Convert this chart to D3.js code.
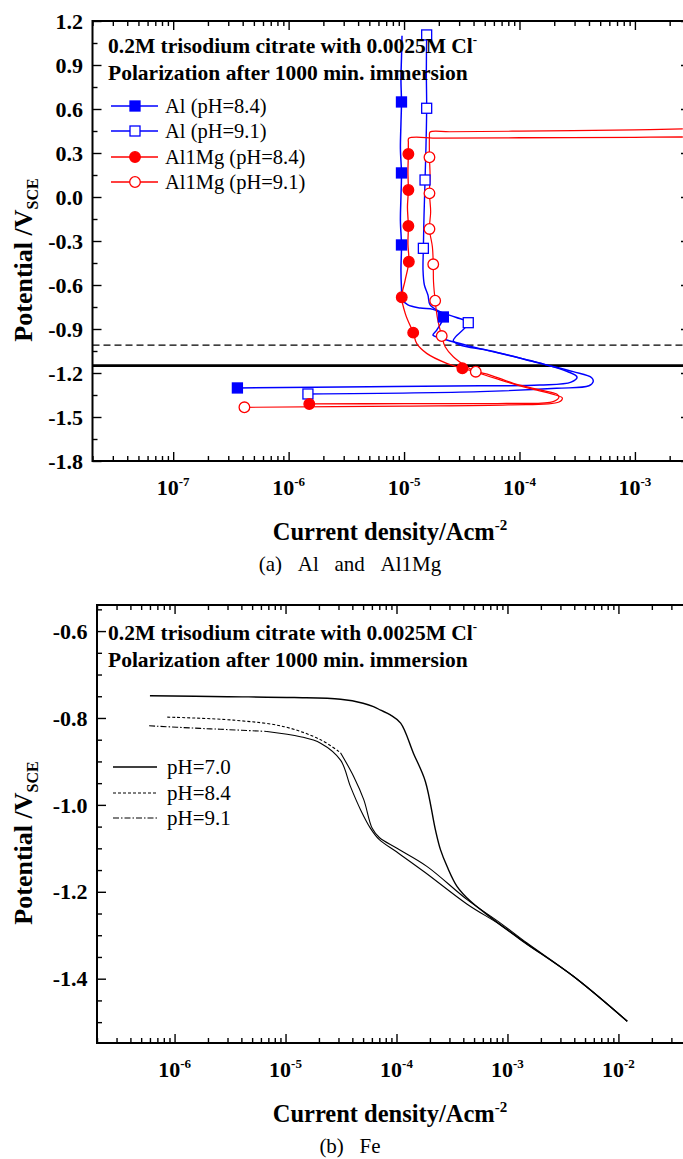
<!DOCTYPE html>
<html><head><meta charset="utf-8">
<script src="https://cdn.jsdelivr.net/npm/d3@7"></script>
<style>
body{margin:0;background:#fff}
svg{display:block}
text{font-family:"Liberation Serif","Times New Roman",Times,serif;fill:#000}
</style>
</head><body>
<svg id="c" width="683" height="1159"></svg>
<script>
// ---------- Panel (a): Al and Al1Mg, [current density A/cm2, potential V] ----------
const aAl84 = [[9.6e-6,1.10],[9.5e-6,0.95],[9.4e-6,0.80],[9.5e-6,0.648],[9.4e-6,0.50],[9.3e-6,0.33],[9.5e-6,0.164],[9.4e-6,0.0],[9.3e-6,-0.16],[9.5e-6,-0.327],[9.4e-6,-0.50],[9.5e-6,-0.62],[9.7e-6,-0.70],[1.08e-5,-0.736],[1.38e-5,-0.757],[1.78e-5,-0.766],[2.0e-5,-0.785],[2.19e-5,-0.818],[1.92e-5,-0.907],[1.78e-5,-0.941],[2.05e-5,-0.961],[3.96e-5,-1.022],[1.5e-4,-1.132],[2.6e-4,-1.19],[3.15e-4,-1.227],[2.8e-4,-1.262],[1.5e-4,-1.282],[4.6e-5,-1.287],[5e-6,-1.294],[3.6e-7,-1.302]];
const aAl84Markers = [[9.5e-6,0.648],[9.5e-6,0.164],[9.5e-6,-0.327],[2.19e-5,-0.818],[3.6e-7,-1.302]];

const aAl91 = [[1.57e-5,1.105],[1.56e-5,0.85],[1.57e-5,0.605],[1.55e-5,0.36],[1.52e-5,0.116],[1.49e-5,-0.12],[1.47e-5,-0.35],[1.46e-5,-0.50],[1.5e-5,-0.60],[1.61e-5,-0.668],[1.68e-5,-0.736],[2.05e-5,-0.782],[2.8e-5,-0.82],[3.6e-5,-0.857],[2.77e-5,-0.957],[2.67e-5,-0.98],[3.06e-5,-1.009],[5.56e-5,-1.048],[1.5e-4,-1.134],[2.92e-4,-1.191],[4.22e-4,-1.232],[4.35e-4,-1.259],[4.0e-4,-1.287],[2.1e-4,-1.304],[4.55e-5,-1.327],[1.47e-6,-1.343]];
const aAl91Markers = [[1.57e-5,1.105],[1.57e-5,0.605],[1.52e-5,0.116],[1.47e-5,-0.35],[3.6e-5,-0.857],[1.47e-6,-1.343]];

const aMg84 = [[2.6e-3,0.409],[1e-3,0.407],[1e-4,0.404],[2e-5,0.401],[1.1e-5,0.400],[1.09e-5,0.37],[1.09e-5,0.293],[1.08e-5,0.17],[1.09e-5,0.048],[1.07e-5,-0.07],[1.09e-5,-0.198],[1.08e-5,-0.32],[1.1e-5,-0.441],[1.02e-5,-0.57],[9.55e-6,-0.684],[1.03e-5,-0.80],[1.2e-5,-0.925],[1.29e-5,-1.0],[1.57e-5,-1.066],[2.34e-5,-1.134],[3.2e-5,-1.168],[5.56e-5,-1.214],[8.83e-5,-1.27],[1.5e-4,-1.315],[2.1e-4,-1.343],[2.2e-4,-1.362],[1.96e-4,-1.395],[7.7e-5,-1.407],[1e-5,-1.409],[1.51e-6,-1.411]];
const aMg84Markers = [[1.09e-5,0.293],[1.09e-5,0.048],[1.09e-5,-0.198],[1.1e-5,-0.441],[9.55e-6,-0.684],[1.2e-5,-0.925],[3.2e-5,-1.168],[1.51e-6,-1.411]];

const aMg91 = [[2.6e-3,0.464],[1e-3,0.458],[1e-4,0.449],[2.5e-5,0.445],[1.68e-5,0.443],[1.66e-5,0.41],[1.66e-5,0.271],[1.68e-5,0.15],[1.66e-5,0.025],[1.7e-5,-0.10],[1.66e-5,-0.218],[1.76e-5,-0.34],[1.79e-5,-0.459],[1.8e-5,-0.58],[1.86e-5,-0.707],[1.95e-5,-0.83],[2.12e-5,-0.948],[2.27e-5,-1.021],[2.67e-5,-1.089],[3.49e-5,-1.157],[4.18e-5,-1.191],[7e-5,-1.25],[1.3e-4,-1.31],[2.05e-4,-1.35],[2.35e-4,-1.37],[2.2e-4,-1.398],[8e-5,-1.418],[1e-5,-1.426],[4.14e-7,-1.434]];
const aMg91Markers = [[1.66e-5,0.271],[1.66e-5,0.025],[1.66e-5,-0.218],[1.79e-5,-0.459],[1.86e-5,-0.707],[2.12e-5,-0.948],[4.18e-5,-1.191],[4.14e-7,-1.434]];

const aRefSolid = -1.15;
const aRefDashed = -1.01;
const aLegend = ["Al (pH=8.4)","Al (pH=9.1)","Al1Mg (pH=8.4)","Al1Mg (pH=9.1)"];
const aXDomain = [2e-8, 3e-3];
const aYDomain = [-1.8, 1.2];
const aXTicks = [1e-7,1e-6,1e-5,1e-4,1e-3];
const aXTickExp = ["-7","-6","-5","-4","-3"];
const aYTicks = [-1.8,-1.5,-1.2,-0.9,-0.6,-0.3,0.0,0.3,0.6,0.9,1.2];
const aYMinor = [-1.65,-1.35,-1.05,-0.75,-0.45,-0.15,0.15,0.45,0.75,1.05];

// ---------- Panel (b): Fe ----------
const fe70 = [[6.0e-7,-0.749],[3e-6,-0.751],[1.2e-5,-0.753],[3.13e-5,-0.757],[5e-5,-0.766],[6.2e-5,-0.774],[7.2e-5,-0.782],[8.8e-5,-0.793],[1.09e-4,-0.812],[1.42e-4,-0.881],[1.82e-4,-0.946],[2.24e-4,-1.057],[2.49e-4,-1.103],[2.86e-4,-1.142],[3.52e-4,-1.188],[4.65e-4,-1.222],[7.5e-4,-1.264],[1.31e-3,-1.31],[3.95e-3,-1.395],[1.2e-2,-1.498]];
const fe84 = [[8.6e-7,-0.798],[3.4e-6,-0.805],[9.7e-6,-0.82],[2.07e-5,-0.85],[3.13e-5,-0.88],[4.12e-5,-0.935],[5.07e-5,-0.988],[6.04e-5,-1.054],[7e-5,-1.075],[1.01e-4,-1.1],[1.89e-4,-1.142],[4.33e-4,-1.218],[8.65e-4,-1.272],[1.5e-3,-1.318],[3.95e-3,-1.395],[1.2e-2,-1.498]];
const fe91 = [[5.9e-7,-0.818],[1.71e-6,-0.824],[2.6e-6,-0.826],[6.8e-6,-0.831],[1.36e-5,-0.843],[2.07e-5,-0.858],[3.13e-5,-0.897],[3.85e-5,-0.958],[4.74e-5,-1.011],[5.83e-5,-1.054],[7e-5,-1.08],[1.0e-4,-1.108],[1.8e-4,-1.155],[4.3e-4,-1.228],[8.6e-4,-1.276],[1.5e-3,-1.32],[3.95e-3,-1.395],[1.2e-2,-1.498]];
const feLegend = ["pH=7.0","pH=8.4","pH=9.1"];
const bXDomain = [2e-7, 5e-2];
const bYDomain = [-1.548, -0.54];
const bXTicks = [1e-6,1e-5,1e-4,1e-3,1e-2];
const bXTickExp = ["-6","-5","-4","-3","-2"];
const bYTicks = [-1.4,-1.2,-1.0,-0.8,-0.6];
const bYMinor = [-1.5,-1.45,-1.35,-1.3,-1.25,-1.15,-1.1,-1.05,-0.95,-0.9,-0.85,-0.75,-0.7,-0.65,-0.55];

const headLine1 = "0.2M trisodium citrate with 0.0025M Cl";
const headLine2 = "Polarization after 1000 min. immersion";

// ---------- drawing ----------
const svg = d3.select("#c");
const BLUE = "#0000ff", RED = "#ff0000";

function logMinor(dom){
  const out=[]; const lo=Math.floor(Math.log10(dom[0])), hi=Math.ceil(Math.log10(dom[1]));
  for(let e=lo;e<=hi;e++) for(let m=2;m<=9;m++){const v=m*Math.pow(10,e); if(v>=dom[0]&&v<=dom[1]) out.push(v);}
  return out;
}

function frameAxes(g, x, y, xMajor, yMajor, yMinor){
  const [x0,x1]=x.range(), [y0,y1]=y.range();
  const xMinor = logMinor(x.domain());
  const clean = sel => { sel.select(".domain").remove(); sel.selectAll("text").remove();
    sel.selectAll("line").attr("stroke","#000").attr("stroke-width",1.4); };
  const ax = (gen,tx,ty) => g.append("g").attr("transform",`translate(${tx},${ty})`).call(gen).call(clean);
  ax(d3.axisBottom(x).tickValues(xMajor).tickSize(-9),0,y0);
  ax(d3.axisBottom(x).tickValues(xMinor).tickSize(-5),0,y0);
  ax(d3.axisTop(x).tickValues(xMajor).tickSize(-9),0,y1);
  ax(d3.axisTop(x).tickValues(xMinor).tickSize(-5),0,y1);
  ax(d3.axisLeft(y).tickValues(yMajor).tickSize(-9),x0,0);
  ax(d3.axisLeft(y).tickValues(yMinor).tickSize(-5),x0,0);
  ax(d3.axisRight(y).tickValues(yMajor).tickSize(-9),x1,0);
  ax(d3.axisRight(y).tickValues(yMinor).tickSize(-5),x1,0);
  g.append("rect").attr("x",x0).attr("y",y1).attr("width",x1-x0).attr("height",y0-y1)
    .attr("fill","none").attr("stroke","#000").attr("stroke-width",2);
}

function labels(g, x, y, xMajor, xExp, yMajor, o){
  const [x0,x1]=x.range(), [y0,y1]=y.range();
  g.selectAll(null).data(yMajor).enter().append("text")
    .attr("x",x0-9.5).attr("y",d=>y(d)).attr("dy","0.35em").attr("text-anchor","end")
    .attr("font-weight","bold").attr("font-size",22).text(d=>d.toFixed(1));
  const xl = g.selectAll(null).data(xMajor).enter().append("text")
    .attr("x",d=>x(d)).attr("y",y0+34).attr("text-anchor","middle")
    .attr("font-weight","bold").attr("font-size",22);
  xl.append("tspan").text("10");
  xl.append("tspan").attr("dy",-9).attr("font-size",13).text((d,i)=>xExp[i]);
  // x title
  const xt = g.append("text").attr("x",390).attr("y",y0+79).attr("text-anchor","middle")
    .attr("font-weight","bold").attr("font-size",24.5);
  xt.append("tspan").text("Current density/Acm");
  xt.append("tspan").attr("dy",-10).attr("font-size",15).text("-2");
  // caption
  g.append("text").attr("x",350).attr("y",y0+110).attr("text-anchor","middle")
    .attr("font-size",21).text(o.caption);
  // y title
  const cy = (y0+y1)/2 + 19;
  const yt = g.append("text").attr("transform",`translate(32,${cy}) rotate(-90)`)
    .attr("text-anchor","middle").attr("font-weight","bold").attr("font-size",26);
  yt.append("tspan").text("Potential /V");
  yt.append("tspan").attr("dy",6).attr("font-size",16).text("SCE");
  // heading
  const h1 = g.append("text").attr("x",108).attr("y",y1+o.h1).attr("font-weight","bold").attr("font-size",21.5);
  h1.append("tspan").text(headLine1);
  h1.append("tspan").attr("dy",-9).attr("font-size",13).text("-");
  g.append("text").attr("x",108).attr("y",y1+o.h2).attr("font-weight","bold").attr("font-size",21.5).text(headLine2);
}

function marker(sel, shape, color, filled, x, y){
  if(shape==="square"){
    sel.append("rect").attr("x",x-5).attr("y",y-5).attr("width",10).attr("height",10)
      .attr("fill",filled?color:"#fff").attr("stroke",color).attr("stroke-width",1.3);
  } else {
    sel.append("circle").attr("cx",x).attr("cy",y).attr("r",5.3)
      .attr("fill",filled?color:"#fff").attr("stroke",color).attr("stroke-width",1.3);
  }
}

// ----- Panel a -----
{
  const x = d3.scaleLog().domain(aXDomain).range([92.5,690]);
  const y = d3.scaleLinear().domain(aYDomain).range([461,21]);
  const g = svg.append("g");
  svg.append("defs").append("clipPath").attr("id","clipA").append("rect")
    .attr("x",92.5).attr("y",21).attr("width",690-92.5).attr("height",440);
  const plot = g.append("g").attr("clip-path","url(#clipA)");
  plot.append("line").attr("x1",x.range()[0]).attr("x2",x.range()[1]).attr("y1",y(aRefDashed)).attr("y2",y(aRefDashed))
    .attr("stroke","#000").attr("stroke-width",1.4).attr("stroke-dasharray","7,4");
  plot.append("line").attr("x1",x.range()[0]).attr("x2",x.range()[1]).attr("y1",y(aRefSolid)).attr("y2",y(aRefSolid))
    .attr("stroke","#000").attr("stroke-width",2.6);
  const line = d3.line().x(d=>x(d[0])).y(d=>y(d[1])).curve(d3.curveCatmullRom.alpha(0.5));
  const series = [
    {d:aAl84,m:aAl84Markers,c:BLUE,s:"square",f:true,w:1.5},
    {d:aAl91,m:aAl91Markers,c:BLUE,s:"square",f:false,w:1.4},
    {d:aMg84,m:aMg84Markers,c:RED,s:"circle",f:true,w:1.3},
    {d:aMg91,m:aMg91Markers,c:RED,s:"circle",f:false,w:1.2}
  ];
  series.forEach(s=>plot.append("path").attr("d",line(s.d)).attr("fill","none").attr("stroke",s.c).attr("stroke-width",s.w));
  series.forEach(s=>s.m.forEach(p=>marker(plot,s.s,s.c,s.f,x(p[0]),y(p[1]))));
  // legend
  const ly = [106,131,157,182];
  series.forEach((s,i)=>{
    g.append("line").attr("x1",111).attr("x2",158).attr("y1",ly[i]).attr("y2",ly[i]).attr("stroke",s.c).attr("stroke-width",1.3);
    marker(g,s.s,s.c,s.f,135,ly[i]);
    g.append("text").attr("x",165).attr("y",ly[i]+7).attr("font-size",20.5).text(aLegend[i]);
  });
  frameAxes(g,x,y,aXTicks,aYTicks,aYMinor);
  labels(g,x,y,aXTicks,aXTickExp,aYTicks,{caption:"(a)\u00a0\u00a0\u00a0Al\u00a0\u00a0\u00a0and\u00a0\u00a0\u00a0Al1Mg",h1:32,h2:59});
}

// ----- Panel b -----
{
  const x = d3.scaleLog().domain(bXDomain).range([97,696]);
  const y = d3.scaleLinear().domain(bYDomain).range([1043,605]);
  const g = svg.append("g");
  svg.append("defs").append("clipPath").attr("id","clipB").append("rect")
    .attr("x",97).attr("y",605).attr("width",599).attr("height",438);
  const plot = g.append("g").attr("clip-path","url(#clipB)");
  const line = d3.line().x(d=>x(d[0])).y(d=>y(d[1])).curve(d3.curveCatmullRom.alpha(0.5));
  const fe = [
    {d:fe70,k:0,dash:null,w:1.4},
    {d:fe84,k:4,dash:"3,2",w:1.1},
    {d:fe91,k:3,dash:"6,2,1.5,2",w:1.1}
  ];
  fe.forEach(s=>{
    if(s.k>0) plot.append("path").attr("d",line(s.d.slice(0,s.k+1))).attr("fill","none").attr("stroke","#000")
      .attr("stroke-width",s.w).attr("stroke-dasharray",s.dash);
    plot.append("path").attr("d",line(s.d.slice(s.k))).attr("fill","none").attr("stroke","#000").attr("stroke-width",s.w);
  });
  const ly = [767,793,818];
  fe.forEach((s,i)=>{
    g.append("line").attr("x1",113).attr("x2",157).attr("y1",ly[i]).attr("y2",ly[i]).attr("stroke","#000")
      .attr("stroke-width",s.w).attr("stroke-dasharray",s.dash);
    g.append("text").attr("x",167).attr("y",ly[i]+7).attr("font-size",21).text(feLegend[i]);
  });
  frameAxes(g,x,y,bXTicks,bYTicks,bYMinor);
  labels(g,x,y,bXTicks,bXTickExp,bYTicks,{caption:"(b)\u00a0\u00a0\u00a0Fe",h1:35,h2:62});
}
</script>
</body></html>
